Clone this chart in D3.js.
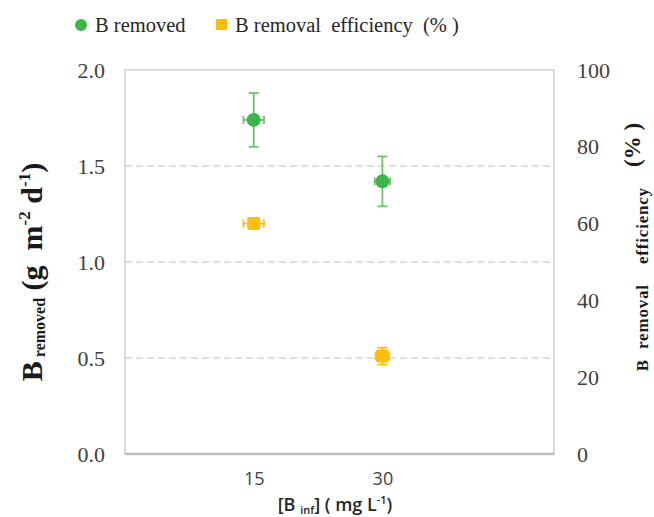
<!DOCTYPE html>
<html>
<head>
<meta charset="utf-8">
<style>
  body { margin: 0; background: #fff; }
  svg { display: block; }
</style>
</head>
<body>
<svg id="chart" width="654" height="517"></svg>
<script src="https://cdn.jsdelivr.net/npm/d3@7"></script>
<script>
    // values
    var inflow = [15, 30];
    var removed = [1.74, 1.42];
    var removedErr = [0.14, 0.13];
    var removedXErr = [1.2, 0.9];
    var efficiency = [60, 25.5];
    var efficiencyErr = [1.2, 2.2];
    var efficiencyXErr = [1.2, 0.8];
    var leftTicks = [0, 0.5, 1.0, 1.5, 2.0];
    var rightTicks = [0, 20, 40, 60, 80, 100];
    var xTicks = [15, 30];

    var green = "#3cb54a", greenErr = "#6cc46f";
    var yellow = "#ffbe0f";
    var serif = "'Liberation Serif', 'DejaVu Serif', serif";
    var sans = "'Open Sans', 'Noto Sans', sans-serif";

    var plotLeft = 125, plotRight = 554, plotTop = 70, plotBottom = 454;
    var svg = d3.select("#chart");

    var x = d3.scaleLinear().domain([0, 50]).range([plotLeft, plotRight]);
    var yL = d3.scaleLinear().domain([0, 2]).range([plotBottom, plotTop]);
    var yR = d3.scaleLinear().domain([0, 100]).range([plotBottom, plotTop]);

    // dashed grid
    svg.append("g").selectAll("line")
        .data(leftTicks.filter(d => d > 0 && d < 2))
        .enter().append("line")
        .attr("x1", plotLeft).attr("x2", plotRight)
        .attr("y1", d => yL(d)).attr("y2", d => yL(d))
        .attr("stroke", "#d6d6d6").attr("stroke-width", 1.3)
        .attr("stroke-dasharray", "7,4");

    // frame
    svg.append("rect")
        .attr("x", plotLeft).attr("y", plotTop)
        .attr("width", plotRight - plotLeft).attr("height", plotBottom - plotTop)
        .attr("fill", "none").attr("stroke", "#c8c8c8").attr("stroke-width", 1.3);
    svg.append("line")
        .attr("x1", plotLeft).attr("x2", plotRight)
        .attr("y1", plotBottom).attr("y2", plotBottom)
        .attr("stroke", "#bdbdbd").attr("stroke-width", 2.5);

    // left axis
    var gL = svg.append("g").attr("transform", "translate(" + plotLeft + ",0)")
        .call(d3.axisLeft(yL).tickValues(leftTicks).tickFormat(d3.format(".1f")).tickSize(0).tickPadding(20));
    gL.select(".domain").remove();
    gL.selectAll("text").attr("font-family", serif).attr("font-size", 22).attr("fill", "#404040");

    // right axis
    var gR = svg.append("g").attr("transform", "translate(" + plotRight + ",0)")
        .call(d3.axisRight(yR).tickValues(rightTicks).tickSize(0).tickPadding(23));
    gR.select(".domain").remove();
    gR.selectAll("text").attr("font-family", serif).attr("font-size", 22).attr("fill", "#404040");

    // x axis
    var gX = svg.append("g").attr("transform", "translate(0," + plotBottom + ")")
        .call(d3.axisBottom(x).tickValues(xTicks).tickSize(0).tickPadding(18));
    gX.select(".domain").remove();
    gX.selectAll("text").attr("font-family", sans).attr("font-size", 18).attr("fill", "#404040");

    function errorBars(vals, err, xerr, yScale, color) {
        var g = svg.append("g");
        inflow.forEach(function (d, i) {
            var cx = x(d), cy = yScale(vals[i]);
            var y1 = yScale(vals[i] + err[i]), y2 = yScale(vals[i] - err[i]);
            var x1 = x(d - xerr[i]), x2 = x(d + xerr[i]);
            g.append("line").attr("x1", cx).attr("x2", cx).attr("y1", y1).attr("y2", y2);
            g.append("line").attr("x1", cx - 5).attr("x2", cx + 5).attr("y1", y1).attr("y2", y1);
            g.append("line").attr("x1", cx - 5).attr("x2", cx + 5).attr("y1", y2).attr("y2", y2);
            g.append("line").attr("x1", x1).attr("x2", x2).attr("y1", cy).attr("y2", cy);
            g.append("line").attr("x1", x1).attr("x2", x1).attr("y1", cy - 4).attr("y2", cy + 4);
            g.append("line").attr("x1", x2).attr("x2", x2).attr("y1", cy - 4).attr("y2", cy + 4);
        });
        g.selectAll("line").attr("stroke", color).attr("stroke-width", 1.8);
    }

    errorBars(removed, removedErr, removedXErr, yL, greenErr);
    errorBars(efficiency, efficiencyErr, efficiencyXErr, yR, yellow);

    svg.append("g").selectAll("circle")
        .data(inflow).enter().append("circle")
        .attr("cx", d => x(d)).attr("cy", (d, i) => yL(removed[i]))
        .attr("r", 7).attr("fill", green);

    svg.append("g").selectAll("rect")
        .data(inflow).enter().append("rect")
        .attr("x", d => x(d) - 6.5).attr("y", (d, i) => yR(efficiency[i]) - 6.5)
        .attr("width", 13).attr("height", 13).attr("rx", 2)
        .attr("fill", yellow);

    // legend
    var lg = svg.append("g").attr("font-family", serif).attr("font-size", 20.5).attr("fill", "#262626");
    lg.append("circle").attr("cx", 81).attr("cy", 25).attr("r", 6).attr("fill", green);
    lg.append("text").attr("x", 95).attr("y", 32).text("B removed");
    lg.append("rect").attr("x", 216).attr("y", 19).attr("width", 11).attr("height", 11).attr("fill", yellow);
    lg.append("text").attr("x", 235).attr("y", 32).attr("xml:space", "preserve").text("B removal  efficiency  (% )");

    // left axis title
    var tl = svg.append("text")
        .attr("transform", "translate(42,272) rotate(-90)")
        .attr("text-anchor", "middle").attr("xml:space", "preserve")
        .attr("font-family", serif).attr("font-weight", "bold").attr("fill", "#1a1a1a");
    tl.append("tspan").attr("font-size", 30).text("B");
    tl.append("tspan").attr("font-size", 16).attr("dy", 3).text(" removed");
    tl.append("tspan").attr("font-size", 30).attr("dy", -3).text(" (g  m");
    tl.append("tspan").attr("font-size", 17).attr("dy", -12).text("-2");
    tl.append("tspan").attr("font-size", 30).attr("dy", 12).text(" d");
    tl.append("tspan").attr("font-size", 17).attr("dy", -12).text("-1");
    tl.append("tspan").attr("font-size", 30).attr("dy", 12).text(")");

    // right axis title
    var tr = svg.append("text")
        .attr("transform", "translate(648,247) rotate(-90)")
        .attr("text-anchor", "middle").attr("xml:space", "preserve")
        .attr("font-family", serif).attr("font-weight", "bold").attr("fill", "#1a1a1a");
    tr.append("tspan").attr("font-size", 17).attr("letter-spacing", 0.8).text("B  removal    efficiency    ");
    tr.append("tspan").attr("font-size", 23).attr("dy", -8).text("(% )");

    // x axis title
    var tx = svg.append("text")
        .attr("x", 335).attr("y", 511)
        .attr("text-anchor", "middle").attr("xml:space", "preserve")
        .attr("font-family", sans).attr("font-weight", "600").attr("fill", "#262626");
    tx.append("tspan").attr("font-size", 18).text("[B ");
    tx.append("tspan").attr("font-size", 11).attr("dy", 3).text("inf");
    tx.append("tspan").attr("font-size", 18).attr("dy", -3).text("] ( mg L");
    tx.append("tspan").attr("font-size", 11).attr("dy", -7).text("-1");
    tx.append("tspan").attr("font-size", 18).attr("dy", 7).text(")");
</script>
</body>
</html>
